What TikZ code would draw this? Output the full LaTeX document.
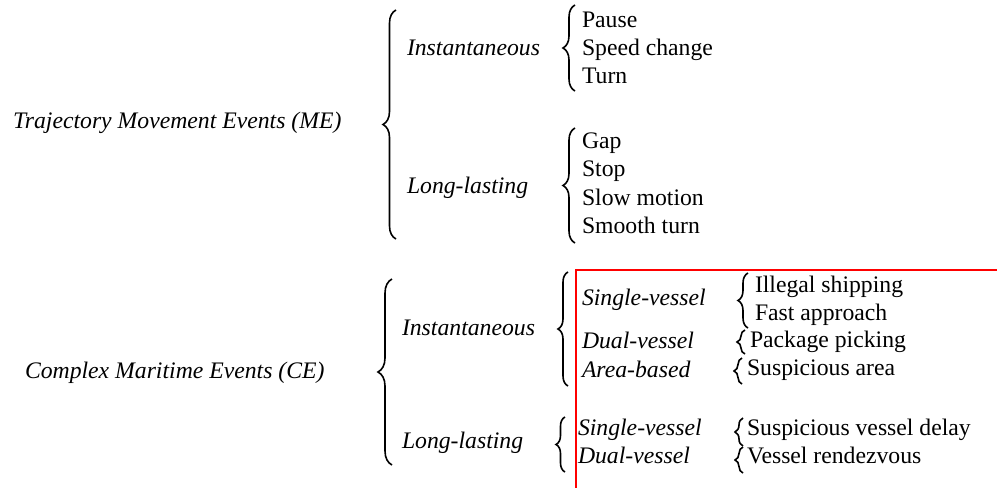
\documentclass[tikz,border=0pt]{standalone}
\usepackage{fontspec}
\setmainfont{Liberation Serif}
\usetikzlibrary{decorations.pathreplacing}
\tikzset{
  lbl/.style={anchor=base west, inner sep=0pt, outer sep=0pt, font=\fontsize{23.7}{28}\selectfont},
  cat/.style={lbl, font=\fontsize{23.7}{28}\selectfont\itshape},
  brc/.style={decorate, line width=1.6pt, decoration={brace, amplitude=#1}},
  redbox/.style={draw=red, line width=2pt}
}
\begin{document}
\begin{tikzpicture}[x=1pt, y=-1pt]
\useasboundingbox (0,0) rectangle (997,488);
% ---- Trajectory Movement Events ----
\node[cat] (me) at (13,128) {Trajectory Movement Events (ME)};
\draw[brc=13pt] (396,239) -- (396,10);
\node[cat] (meI) at (407,55) {Instantaneous};
\node[cat] (meL) at (407,193) {Long-lasting};
\draw[brc=12pt] (575,91) -- (575,5);
\node[lbl] (pause) at (582,27) {Pause};
\node[lbl] (speed) at (582,55) {Speed change};
\node[lbl] (turn) at (582,83) {Turn};
\draw[brc=12pt] (575,243) -- (575,128);
\node[lbl] (gap) at (582,148) {Gap};
\node[lbl] (stop) at (582,176.5) {Stop};
\node[lbl] (slow) at (582,205) {Slow motion};
\node[lbl] (smooth) at (582,233.5) {Smooth turn};
% ---- Complex Maritime Events ----
\node[cat] (ce) at (25,378) {Complex Maritime Events (CE)};
\draw[brc=14pt] (392,465) -- (392,279);
\node[cat] (ceI) at (402,335) {Instantaneous};
\node[cat] (ceL) at (402,448) {Long-lasting};
\draw[brc=10pt] (568,386) -- (568,272);
\node[cat] (sv1) at (582,305) {Single-vessel};
\node[cat] (dv1) at (582,348) {Dual-vessel};
\node[cat] (ab1) at (582,377) {Area-based};
\draw[brc=9pt] (565,472) -- (565,417);
\node[cat] (sv2) at (578,435) {Single-vessel};
\node[cat] (dv2) at (578,463) {Dual-vessel};
% small braces
\draw[brc=10pt] (748,328) -- (748,273);
\node[lbl] (ill) at (755,292) {Illegal shipping};
\node[lbl] (fast) at (755,320) {Fast approach};
\draw[brc=8pt] (745,354) -- (745,330);
\node[lbl] (pack) at (750,347) {Package picking};
\draw[brc=8pt] (742,384) -- (742,358);
\node[lbl] (susa) at (747,375) {Suspicious area};
\draw[brc=8pt] (743,446) -- (743,418);
\node[lbl] (susd) at (747,435) {Suspicious vessel delay};
\draw[brc=8pt] (743,473) -- (743,447);
\node[lbl] (rend) at (747,463) {Vessel rendezvous};
% red highlight frame
\draw[redbox] (997,270) -| (576,488);
\end{tikzpicture}
\end{document}
